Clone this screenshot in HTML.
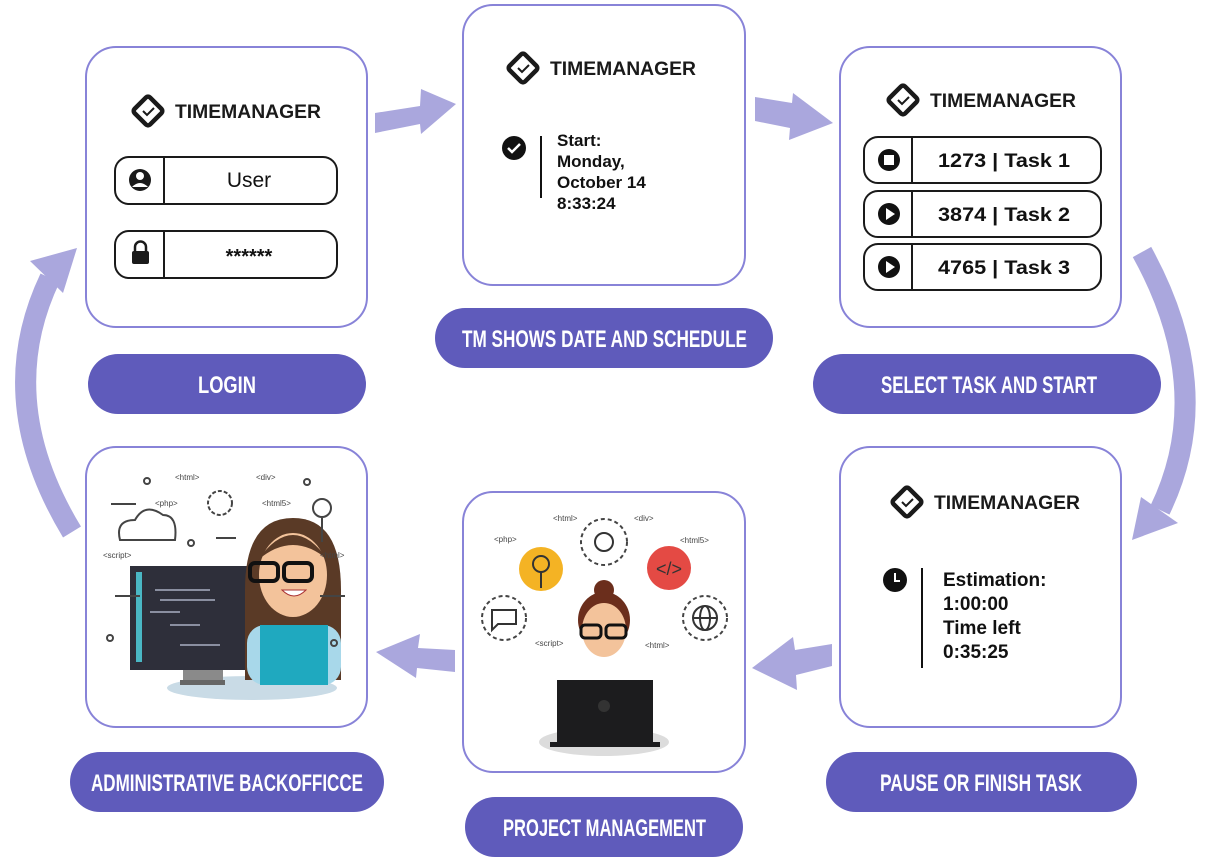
<!DOCTYPE html>
<html><head><meta charset="utf-8"><style>
html,body{margin:0;padding:0;background:#fff;}
svg{display:block;}
.lbl{font-family:"Liberation Sans",sans-serif;font-weight:bold;fill:#fff;font-size:24px;}
.lg{font-family:"Liberation Sans",sans-serif;font-weight:bold;font-size:19px;fill:#1a1a1a;}
.t{font-family:"Liberation Sans","DejaVu Sans",sans-serif;font-weight:bold;fill:#111;}
.tag{font-family:"Liberation Sans",sans-serif;font-size:8px;fill:#444;}
</style></head><body>
<svg width="1211" height="864" viewBox="0 0 1211 864" xmlns="http://www.w3.org/2000/svg">
<defs>
<g id="logo">
  <rect x="4" y="-11" width="22" height="22" rx="3" transform="rotate(45 15 0)" fill="none" stroke="#1a1a1a" stroke-width="4.5"/>
  <path d="M10,0 l4,4 l7,-7" fill="none" stroke="#1a1a1a" stroke-width="2"/>
  <text class="lg" x="42" y="7" textLength="146" lengthAdjust="spacingAndGlyphs">TIMEMANAGER</text>
</g>
</defs>
<!-- arrows -->
<g fill="#aaa7dd" stroke="none">
<polygon points="375,113 420,106 421,89 456,104 421,134 420,124 375,133"/>
<polygon points="755,97 792,103 793,93 833,123 789,140 790,128 755,121"/>
<polygon points="832,644 795,650 793,637 752,668 797,690 796,675 832,666"/>
<polygon points="455,650 418,648 420,634 376,652 416,678 417,668 455,672"/>
<polygon points="30,261 77,248 63,293"/>
<polygon points="1141,497 1132,540 1178,523"/>
</g>
<g fill="none" stroke="#aaa7dd" stroke-width="21">
<path d="M72,532 Q-8,400 50,278"/>
<path d="M1142,252 Q1218,390 1160,510"/>
</g>
<!-- boxes -->
<g fill="#fff" stroke="#8883d8" stroke-width="2">
<rect x="86" y="47" width="281" height="280" rx="30"/>
<rect x="463" y="5" width="282" height="280" rx="30"/>
<rect x="840" y="47" width="281" height="280" rx="30"/>
<rect x="840" y="447" width="281" height="280" rx="30"/>
<rect x="463" y="492" width="282" height="280" rx="30"/>
<rect x="86" y="447" width="281" height="280" rx="30"/>
</g>
<!-- labels -->
<g fill="#5f5bbb">
<rect x="88" y="354" width="278" height="60" rx="30"/>
<rect x="435" y="308" width="338" height="60" rx="30"/>
<rect x="813" y="354" width="348" height="60" rx="30"/>
<rect x="826" y="752" width="311" height="60" rx="30"/>
<rect x="465" y="797" width="278" height="60" rx="30"/>
<rect x="70" y="752" width="314" height="60" rx="30"/>
</g>
<g class="lbl" lengthAdjust="spacingAndGlyphs">
<text x="198" y="393" textLength="58" lengthAdjust="spacingAndGlyphs">LOGIN</text>
<text x="462" y="347" textLength="285" lengthAdjust="spacingAndGlyphs">TM SHOWS DATE AND SCHEDULE</text>
<text x="881" y="393" textLength="216" lengthAdjust="spacingAndGlyphs">SELECT TASK AND START</text>
<text x="880" y="791" textLength="202" lengthAdjust="spacingAndGlyphs">PAUSE OR FINISH TASK</text>
<text x="503" y="836" textLength="203" lengthAdjust="spacingAndGlyphs">PROJECT MANAGEMENT</text>
<text x="91" y="791" textLength="272" lengthAdjust="spacingAndGlyphs">ADMINISTRATIVE BACKOFFICCE</text>
</g>
<!-- logos -->
<use href="#logo" transform="translate(133,111)"/>
<use href="#logo" transform="translate(508,68)"/>
<use href="#logo" transform="translate(888,100)"/>
<use href="#logo" transform="translate(892,502)"/>
<!-- login fields -->
<g fill="none" stroke="#1a1a1a" stroke-width="2">
<rect x="115" y="157" width="222" height="47" rx="14"/>
<line x1="164" y1="157" x2="164" y2="204"/>
<rect x="115" y="231" width="222" height="47" rx="14"/>
<line x1="164" y1="231" x2="164" y2="278"/>
</g>
<circle cx="140" cy="180" r="11" fill="#1a1a1a"/>
<circle cx="140" cy="176" r="4" fill="#fff"/>
<path d="M132,187 q8,-8 16,0" fill="#fff"/>
<rect x="132" y="251" width="17" height="13" rx="2" fill="#1a1a1a"/>
<path d="M135,252 v-5 a5,5 0 0 1 11,0 v5" fill="none" stroke="#1a1a1a" stroke-width="2.5"/>
<text x="249" y="187" font-family="Liberation Sans" font-size="21" text-anchor="middle" fill="#111">User</text>
<text class="t" x="249" y="263" font-size="20" text-anchor="middle">******</text>
<!-- TM shows -->
<circle cx="514" cy="148" r="12" fill="#111"/>
<path d="M508,148 l4,4 l8,-8" fill="none" stroke="#fff" stroke-width="2.5"/>
<line x1="541" y1="136" x2="541" y2="198" stroke="#111" stroke-width="2"/>
<g class="t" font-size="17">
<text x="557" y="146">Start:</text>
<text x="557" y="167">Monday,</text>
<text x="557" y="188">October 14</text>
<text x="557" y="209">8:33:24</text>
</g>
<!-- tasks -->
<g fill="none" stroke="#1a1a1a" stroke-width="2">
<rect x="864" y="137" width="237" height="46" rx="14"/>
<line x1="912" y1="137" x2="912" y2="183"/>
<rect x="864" y="191" width="237" height="46" rx="14"/>
<line x1="912" y1="191" x2="912" y2="237"/>
<rect x="864" y="244" width="237" height="46" rx="14"/>
<line x1="912" y1="244" x2="912" y2="290"/>
</g>
<circle cx="889" cy="160" r="11" fill="#111"/><rect x="884" y="155" width="10" height="10" fill="#fff"/>
<circle cx="889" cy="214" r="11" fill="#111"/><polygon points="886,208 886,220 895,214" fill="#fff"/>
<circle cx="889" cy="267" r="11" fill="#111"/><polygon points="886,261 886,273 895,267" fill="#fff"/>
<g class="t" font-size="19" text-anchor="middle">
<text x="1004" y="167" textLength="132" lengthAdjust="spacingAndGlyphs">1273 | Task 1</text>
<text x="1004" y="221" textLength="132" lengthAdjust="spacingAndGlyphs">3874 | Task 2</text>
<text x="1004" y="274" textLength="132" lengthAdjust="spacingAndGlyphs">4765 | Task 3</text>
</g>
<!-- pause -->
<circle cx="895" cy="580" r="12" fill="#111"/>
<path d="M895,573 v8 h5" fill="none" stroke="#fff" stroke-width="2"/>
<line x1="922" y1="568" x2="922" y2="668" stroke="#111" stroke-width="2"/>
<g class="t" font-size="19">
<text x="943" y="586">Estimation:</text>
<text x="943" y="610">1:00:00</text>
<text x="943" y="634">Time left</text>
<text x="943" y="658">0:35:25</text>
</g>
<!-- admin illustration -->
<g>
<ellipse cx="252" cy="688" rx="85" ry="12" fill="#c9dbe6"/>
<rect x="130" y="566" width="120" height="104" fill="#2e2f3a"/>
<rect x="136" y="572" width="6" height="90" fill="#4ab7c4"/>
<g stroke="#8a8fa0" stroke-width="2">
<line x1="155" y1="590" x2="210" y2="590"/><line x1="160" y1="600" x2="215" y2="600"/>
<line x1="150" y1="612" x2="180" y2="612"/><line x1="170" y1="625" x2="200" y2="625"/>
<line x1="180" y1="645" x2="220" y2="645"/>
</g>
<rect x="183" y="670" width="40" height="12" fill="#8a8a8a"/>
<rect x="180" y="680" width="45" height="5" fill="#666"/>
<path d="M245,590 q0,-72 48,-72 q48,0 48,72 v90 h-96z" fill="#5a3a26"/>
<rect x="247" y="625" width="94" height="60" rx="18" fill="#a8d8ea"/>
<rect x="260" y="625" width="68" height="60" fill="#1fa9bf"/>
<ellipse cx="293" cy="575" rx="34" ry="42" fill="#f3c39b"/>
<path d="M258,560 q35,-50 70,0 q-35,-30 -70,0z" fill="#5a3a26"/>
<g fill="none" stroke="#111" stroke-width="4"><rect x="250" y="563" width="28" height="18" rx="5"/><rect x="284" y="563" width="28" height="18" rx="5"/></g>
<path d="M282,590 q12,12 24,0z" fill="#fff" stroke="#a33" stroke-width="1"/>
<g fill="none" stroke="#444" stroke-width="2">
<circle cx="147" cy="481" r="3"/><circle cx="307" cy="482" r="3"/><circle cx="191" cy="543" r="3"/>
<circle cx="110" cy="638" r="3"/><circle cx="334" cy="643" r="3"/>
<circle cx="220" cy="503" r="12" stroke-dasharray="4 2"/>
<circle cx="322" cy="508" r="9"/><line x1="322" y1="518" x2="322" y2="542"/>
<path d="M120,540 q-5,-20 15,-20 q10,-18 28,-5 q15,0 12,25z"/>
<line x1="111" y1="504" x2="136" y2="504"/><line x1="216" y1="538" x2="236" y2="538"/>
<line x1="115" y1="596" x2="140" y2="596"/><line x1="320" y1="596" x2="345" y2="596"/>
</g>
<text class="tag" x="175" y="480">&lt;html&gt;</text><text class="tag" x="256" y="480">&lt;div&gt;</text>
<text class="tag" x="155" y="506">&lt;php&gt;</text><text class="tag" x="262" y="506">&lt;html5&gt;</text>
<text class="tag" x="103" y="558">&lt;script&gt;</text><text class="tag" x="320" y="558">&lt;html&gt;</text>
</g>
<!-- project illustration -->
<g>
<ellipse cx="604" cy="742" rx="65" ry="14" fill="#dcdcdc"/>
<g fill="none" stroke="#444" stroke-width="2" stroke-dasharray="4 3">
<circle cx="604" cy="542" r="23"/><circle cx="504" cy="618" r="22"/><circle cx="705" cy="618" r="22"/>
</g>
<circle cx="541" cy="569" r="22" fill="#f4b324"/>
<circle cx="669" cy="568" r="22" fill="#e44a44"/>
<text x="669" y="575" font-family="Liberation Sans" font-size="18" text-anchor="middle" fill="#333">&lt;/&gt;</text>
<g fill="none" stroke="#333" stroke-width="2">
<circle cx="604" cy="542" r="9"/><circle cx="541" cy="564" r="8"/><line x1="541" y1="572" x2="541" y2="588"/>
<circle cx="705" cy="618" r="12"/><ellipse cx="705" cy="618" rx="5" ry="12"/><line x1="693" y1="618" x2="717" y2="618"/>
<path d="M492,610 h24 v14 h-18 l-6,6z"/>
</g>
<text class="tag" x="553" y="521">&lt;html&gt;</text><text class="tag" x="634" y="521">&lt;div&gt;</text>
<text class="tag" x="494" y="542">&lt;php&gt;</text><text class="tag" x="680" y="543">&lt;html5&gt;</text>
<text class="tag" x="535" y="646">&lt;script&gt;</text><text class="tag" x="645" y="648">&lt;html&gt;</text>
<circle cx="604" cy="590" r="10" fill="#6b2e1c"/>
<ellipse cx="604" cy="620" rx="26" ry="28" fill="#6b2e1c"/>
<ellipse cx="604" cy="630" rx="22" ry="27" fill="#f3c39b"/>
<g fill="none" stroke="#111" stroke-width="3"><rect x="581" y="625" width="20" height="13" rx="4"/><rect x="606" y="625" width="20" height="13" rx="4"/></g>
<path d="M572,690 q32,-20 64,0 v10 h-64z" fill="#c83a3a"/>
<rect x="557" y="680" width="96" height="64" fill="#1c1c1e"/>
<circle cx="604" cy="706" r="6" fill="#333"/>
<rect x="550" y="742" width="110" height="5" fill="#1c1c1e"/>
</g>
</svg>
</body></html>
